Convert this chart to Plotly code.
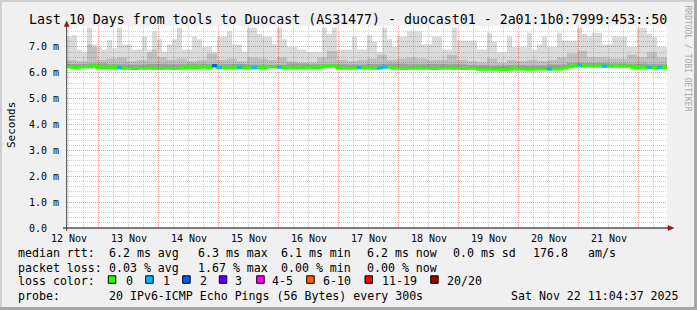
import plotly.graph_objects as go
import pandas as pd

# ---------------- data ----------------
start = pd.Timestamp("2025-11-12 11:22")
end = pd.Timestamp("2025-11-22 11:22")
day_labels = ["12 Nov", "13 Nov", "14 Nov", "15 Nov", "16 Nov",
              "17 Nov", "18 Nov", "19 Nov", "20 Nov", "21 Nov"]
y_tick_vals = [0, 1, 2, 3, 4, 5, 6, 7]
y_tick_text = ["0.0\u00a0\u00a0", "1.0 m", "2.0 m", "3.0 m", "4.0 m", "5.0 m", "6.0 m", "7.0 m"]

# 2-hour bins (ms)
smoke_max = [7.40, 7.45, 6.90, 6.80, 7.75, 7.00, 7.00, 6.90, 7.27, 6.95,
             7.75, 7.10, 7.10, 6.90, 6.90, 7.40, 6.80, 7.60, 7.30, 6.80,
             7.10, 7.30, 7.75, 6.90, 6.90, 7.40, 7.30, 7.00, 7.00, 6.80,
             7.40, 7.40, 7.60, 7.10, 7.10, 6.80, 7.75, 7.75, 7.50, 7.40,
             7.40, 7.10, 7.75, 7.30, 7.00, 7.00, 6.90, 6.90, 6.80, 6.80,
             6.80, 7.75, 7.50, 7.75, 6.90, 6.90, 6.90, 7.40, 6.90, 6.90,
             7.45, 7.20, 6.80, 7.75, 7.30, 7.00, 7.40, 7.40, 7.60, 7.60,
             7.60, 7.10, 7.10, 7.40, 7.40, 6.90, 6.90, 7.75, 7.25, 7.25,
             7.25, 7.25, 6.90, 6.90, 7.55, 7.20, 6.80, 6.80, 7.40, 7.00,
             7.00, 7.00, 7.55, 6.90, 7.10, 7.40, 7.00, 7.00, 7.55, 7.25,
             7.25, 7.25, 7.75, 7.50, 7.40, 7.55, 7.55, 7.10, 7.10, 7.40,
             7.40, 7.40, 7.00, 7.00, 7.75, 7.75, 7.50, 7.40, 7.00, 7.00]

median_rtt = [6.22, 6.21, 6.22, 6.23, 6.22, 6.27, 6.21, 6.20, 6.21, 6.21,
              6.20, 6.18, 6.18, 6.17, 6.18, 6.18, 6.19, 6.18, 6.17, 6.18,
              6.18, 6.17, 6.18, 6.21, 6.21, 6.20, 6.21, 6.22, 6.21, 6.28,
              6.20, 6.20, 6.19, 6.20, 6.21, 6.20, 6.19, 6.20, 6.20, 6.21,
              6.23, 6.23, 6.22, 6.20, 6.20, 6.19, 6.20, 6.20, 6.21, 6.20,
              6.20, 6.26, 6.27, 6.26, 6.19, 6.19, 6.18, 6.19, 6.20, 6.19,
              6.19, 6.18, 6.19, 6.22, 6.22, 6.18, 6.18, 6.17, 6.18, 6.18,
              6.19, 6.18, 6.18, 6.17, 6.18, 6.18, 6.19, 6.18, 6.18, 6.17,
              6.18, 6.18, 6.14, 6.14, 6.15, 6.14, 6.14, 6.13, 6.14, 6.19,
              6.15, 6.15, 6.14, 6.15, 6.15, 6.16, 6.15, 6.15, 6.15, 6.19,
              6.23, 6.27, 6.30, 6.26, 6.26, 6.25, 6.26, 6.26, 6.25, 6.26,
              6.26, 6.25, 6.26, 6.21, 6.21, 6.22, 6.21, 6.21, 6.20, 6.21]

# pings lost out of 20 per bin
loss = [0, 0, 0, 0, 0, 0, 0, 0, 0, 0,
        1, 0, 0, 0, 0, 0, 0, 0, 0, 0,
        0, 0, 0, 0, 0, 0, 0, 0, 0, 2,
        1, 0, 0, 0, 1, 0, 0, 1, 0, 0,
        0, 0, 1, 0, 0, 0, 0, 0, 0, 0,
        0, 0, 0, 0, 0, 0, 0, 0, 1, 0,
        0, 0, 1, 1, 0, 0, 0, 0, 0, 0,
        0, 0, 0, 0, 0, 0, 0, 0, 0, 0,
        0, 0, 0, 0, 0, 0, 0, 0, 0, 0,
        0, 0, 0, 0, 0, 0, 1, 0, 0, 0,
        0, 0, 1, 0, 0, 0, 0, 1, 0, 0,
        0, 0, 0, 0, 0, 0, 1, 0, 1, 0]

# 4-hour bins
smoke_mid = [6.50, 6.45, 7.10, 6.50, 6.55, 6.60, 6.45, 6.50, 6.90, 6.60,
             6.50, 6.55, 6.45, 6.50, 6.75, 6.50, 6.55, 6.45, 6.60, 6.55,
             6.50, 6.60, 6.45, 6.40, 6.40, 6.60, 6.85, 6.50, 6.45, 6.50,
             6.55, 6.70, 6.50, 6.55, 6.60, 6.55, 6.50, 6.50, 6.70, 6.50,
             6.45, 6.40, 6.55, 6.40, 6.50, 6.45, 6.50, 6.45, 6.50, 6.60,
             6.75, 6.85, 6.60, 6.60, 6.55, 6.55, 6.70, 6.60, 6.80, 6.60]

# 8-hour bins
smoke_dark = [6.34, 6.36, 6.33, 6.32, 6.34, 6.33, 6.35, 6.33, 6.34, 6.32,
              6.31, 6.36, 6.33, 6.33, 6.32, 6.34, 6.35, 6.33, 6.34, 6.33,
              6.30, 6.29, 6.30, 6.29, 6.32, 6.38, 6.38, 6.36, 6.35, 6.33]

loss_labels = ["0", "1", "2", "3", "4-5", "6-10", "11-19", "20/20"]
loss_colors = ["#26ff00", "#00b8ff", "#0059ff", "#5e00ff", "#ff00ff", "#ff5e00", "#ff0000", "#a10000"]

# ---------------- geometry helpers ----------------
W, H = 697, 310
L, R, T, B = 67, 667, 26, 228


def px(x):
    return (x - L) / (R - L)


def py(y):
    return (B - y) / (B - T)


def loss_index(n):
    if n <= 3:
        return n
    if n <= 5:
        return 4
    if n <= 10:
        return 5
    if n <= 19:
        return 6
    return 7


fig = go.Figure()


def add_smoke(values, hours, color):
    n_per = hours // 2
    xs, bases, heights = [], [], []
    for i, v in enumerate(values):
        base = min(median_rtt[i * n_per:(i + 1) * n_per])
        xs.append(start + pd.Timedelta(hours=hours * i + hours / 2))
        bases.append(base)
        heights.append(v - base)
    fig.add_trace(go.Bar(x=xs, y=heights, base=bases, width=hours * 3600 * 1000,
                         marker=dict(color=color, line=dict(width=0)),
                         hoverinfo="skip"))


add_smoke(smoke_max, 2, "rgba(0,0,0,0.14)")
add_smoke(smoke_mid, 4, "rgba(0,0,0,0.12)")
add_smoke(smoke_dark, 8, "rgba(0,0,0,0.18)")

edges = [start + pd.Timedelta(hours=2 * i) for i in range(len(median_rtt) + 1)]
fig.add_trace(go.Scatter(x=edges, y=median_rtt + [median_rtt[-1]], mode="lines",
                         line=dict(color=loss_colors[0], width=3, shape="hv"),
                         hoverinfo="skip"))
for lvl in range(1, 8):
    sx, sy = [], []
    for i, n in enumerate(loss):
        if n > 0 and loss_index(n) == lvl:
            sx += [edges[i], edges[i + 1], None]
            sy += [median_rtt[i], median_rtt[i], None]
    if sx:
        fig.add_trace(go.Scatter(x=sx, y=sy, mode="lines",
                                 line=dict(color=loss_colors[lvl], width=3),
                                 hoverinfo="skip"))

midnights = [pd.Timestamp("2025-11-13") + pd.Timedelta(days=d) for d in range(10)]
noons = [pd.Timestamp("2025-11-12 12:00") + pd.Timedelta(days=d) for d in range(10)]

MONO = "DejaVu Sans Mono"
ann = []
for t, lab in zip(noons, day_labels):
    ann.append(dict(x=t, xref="x", y=py(238), yref="paper", text=lab, showarrow=False,
                    xanchor="center", yanchor="middle", font=dict(size=10)))

ann.append(dict(x=px(347.5), y=py(19.5), xref="paper", yref="paper", showarrow=False,
                text="Last 10 Days from tools to Duocast (AS31477) - duocast01 - 2a01:1b0:7999:453::50",
                xanchor="center", yanchor="middle", font=dict(size=13.25)))
ann.append(dict(x=px(11), y=py(125), xref="paper", yref="paper", showarrow=False,
                text="Seconds", textangle=-90, xanchor="center", yanchor="middle",
                font=dict(size=11)))
ann.append(dict(x=px(687), y=py(58.5), xref="paper", yref="paper", showarrow=False,
                text="RRDTOOL / TOBI OETIKER", textangle=90, xanchor="center", yanchor="middle",
                font=dict(size=8, color="#a8a8a8")))

LF = 11.6
rows = [
    (253.5, [(16, "median rtt:"), (107, "6.2 ms avg"), (196, "6.3 ms max"), (279, "6.1 ms min"),
             (365, "6.2 ms now"), (451, "0.0 ms sd"), (531, "176.8"), (586, "am/s")]),
    (267.5, [(16, "packet loss:"), (107, "0.03 % avg"), (196, "1.67 % max"), (279, "0.00 % min"),
             (365, "0.00 % now")]),
    (281, [(16, "loss color:")]),
    (295.5, [(16, "probe:"), (107, "20 IPv6-ICMP Echo Pings (56 Bytes) every 300s")]),
]
for yy, items in rows:
    for xx, txt in items:
        ann.append(dict(x=px(xx - 0.5), y=py(yy), xref="paper", yref="paper", showarrow=False,
                        text=txt, xanchor="left", yanchor="middle", font=dict(size=LF)))
ann.append(dict(x=px(681), y=py(295.5), xref="paper", yref="paper", showarrow=False,
                text="Sat Nov 22 11:04:37 2025", xanchor="right", yanchor="middle",
                font=dict(size=LF)))

box_x = [108.3, 145.7, 182.7, 219.3, 256.7, 306.7, 365, 430.7]
lab_x = [124, 161.3, 198, 233.7, 270.7, 321.7, 380.7, 445]
shapes = []
for bx, lx, lab, col in zip(box_x, lab_x, loss_labels, loss_colors):
    shapes.append(dict(type="rect", xref="paper", yref="paper", x0=px(bx), x1=px(bx + 7.5),
                       y0=py(283.3), y1=py(275.8), fillcolor=col, line=dict(color="#000", width=1)))
    ann.append(dict(x=px(lx - 0.5), y=py(281), xref="paper", yref="paper", showarrow=False,
                    text=lab, xanchor="left", yanchor="middle", font=dict(size=LF)))

# frame shading
shapes += [
    dict(type="rect", xref="paper", yref="paper", x0=px(0), x1=px(697), y0=py(0), y1=py(2),
         fillcolor="#cfcfcf", line=dict(width=0), layer="below"),
    dict(type="rect", xref="paper", yref="paper", x0=px(0), x1=px(2), y0=py(0), y1=py(310),
         fillcolor="#cfcfcf", line=dict(width=0), layer="below"),
    dict(type="rect", xref="paper", yref="paper", x0=px(0), x1=px(697), y0=py(307), y1=py(310),
         fillcolor="#a8a8a8", line=dict(width=0)),
    dict(type="rect", xref="paper", yref="paper", x0=px(694), x1=px(697), y0=py(0), y1=py(310),
         fillcolor="#a8a8a8", line=dict(width=0)),
]
# axes with arrows
shapes += [
    dict(type="line", xref="paper", yref="paper", x0=px(63), x1=px(669), y0=py(228), y1=py(228),
         line=dict(color="#000", width=1)),
    dict(type="line", xref="paper", yref="paper", x0=px(66.7), x1=px(66.7), y0=py(231), y1=py(24),
         line=dict(color="#404040", width=1)),
    dict(type="path", xref="paper", yref="paper",
         path=f"M {px(668)} {py(225.5)} L {px(674)} {py(228)} L {px(668)} {py(230.5)} Z",
         fillcolor="#a01010", line=dict(color="#a01010", width=0.5)),
    dict(type="path", xref="paper", yref="paper",
         path=f"M {px(64.2)} {py(26.5)} L {px(66.7)} {py(21)} L {px(69.2)} {py(26.5)} Z",
         fillcolor="#a01010", line=dict(color="#a01010", width=0.5)),
]

fig.update_layout(
    width=W, height=H,
    margin=dict(l=L, r=W - R, t=T, b=H - B, pad=0),
    paper_bgcolor="#f0f0f0", plot_bgcolor="#ffffff",
    showlegend=False, barmode="overlay",
    font=dict(family=MONO, color="#000000"),
    annotations=ann, shapes=shapes,
    xaxis=dict(type="date", range=[start, end], tickvals=midnights, showticklabels=False,
               ticks="", showgrid=True, gridcolor="rgba(255,120,120,0.55)", gridwidth=1,
               griddash="1px,1px", zeroline=False, showline=False,
               minor=dict(dtick=6 * 3600 * 1000, tick0="2025-11-12 00:00", showgrid=True,
                          gridcolor="rgba(170,170,170,0.55)", griddash="1px,1px", gridwidth=1)),
    yaxis=dict(range=[0, 7.81], tickvals=y_tick_vals, ticktext=y_tick_text,
               tickfont=dict(size=10), ticks="", ticklabelstandoff=7,
               showgrid=True, gridcolor="rgba(255,120,120,0.55)", gridwidth=1, griddash="1px,1px",
               zeroline=False, showline=False,
               minor=dict(dtick=0.2, showgrid=True, gridcolor="rgba(170,170,170,0.55)",
                          griddash="1px,1px", gridwidth=1)),
)

fig.write_html("out.html")
